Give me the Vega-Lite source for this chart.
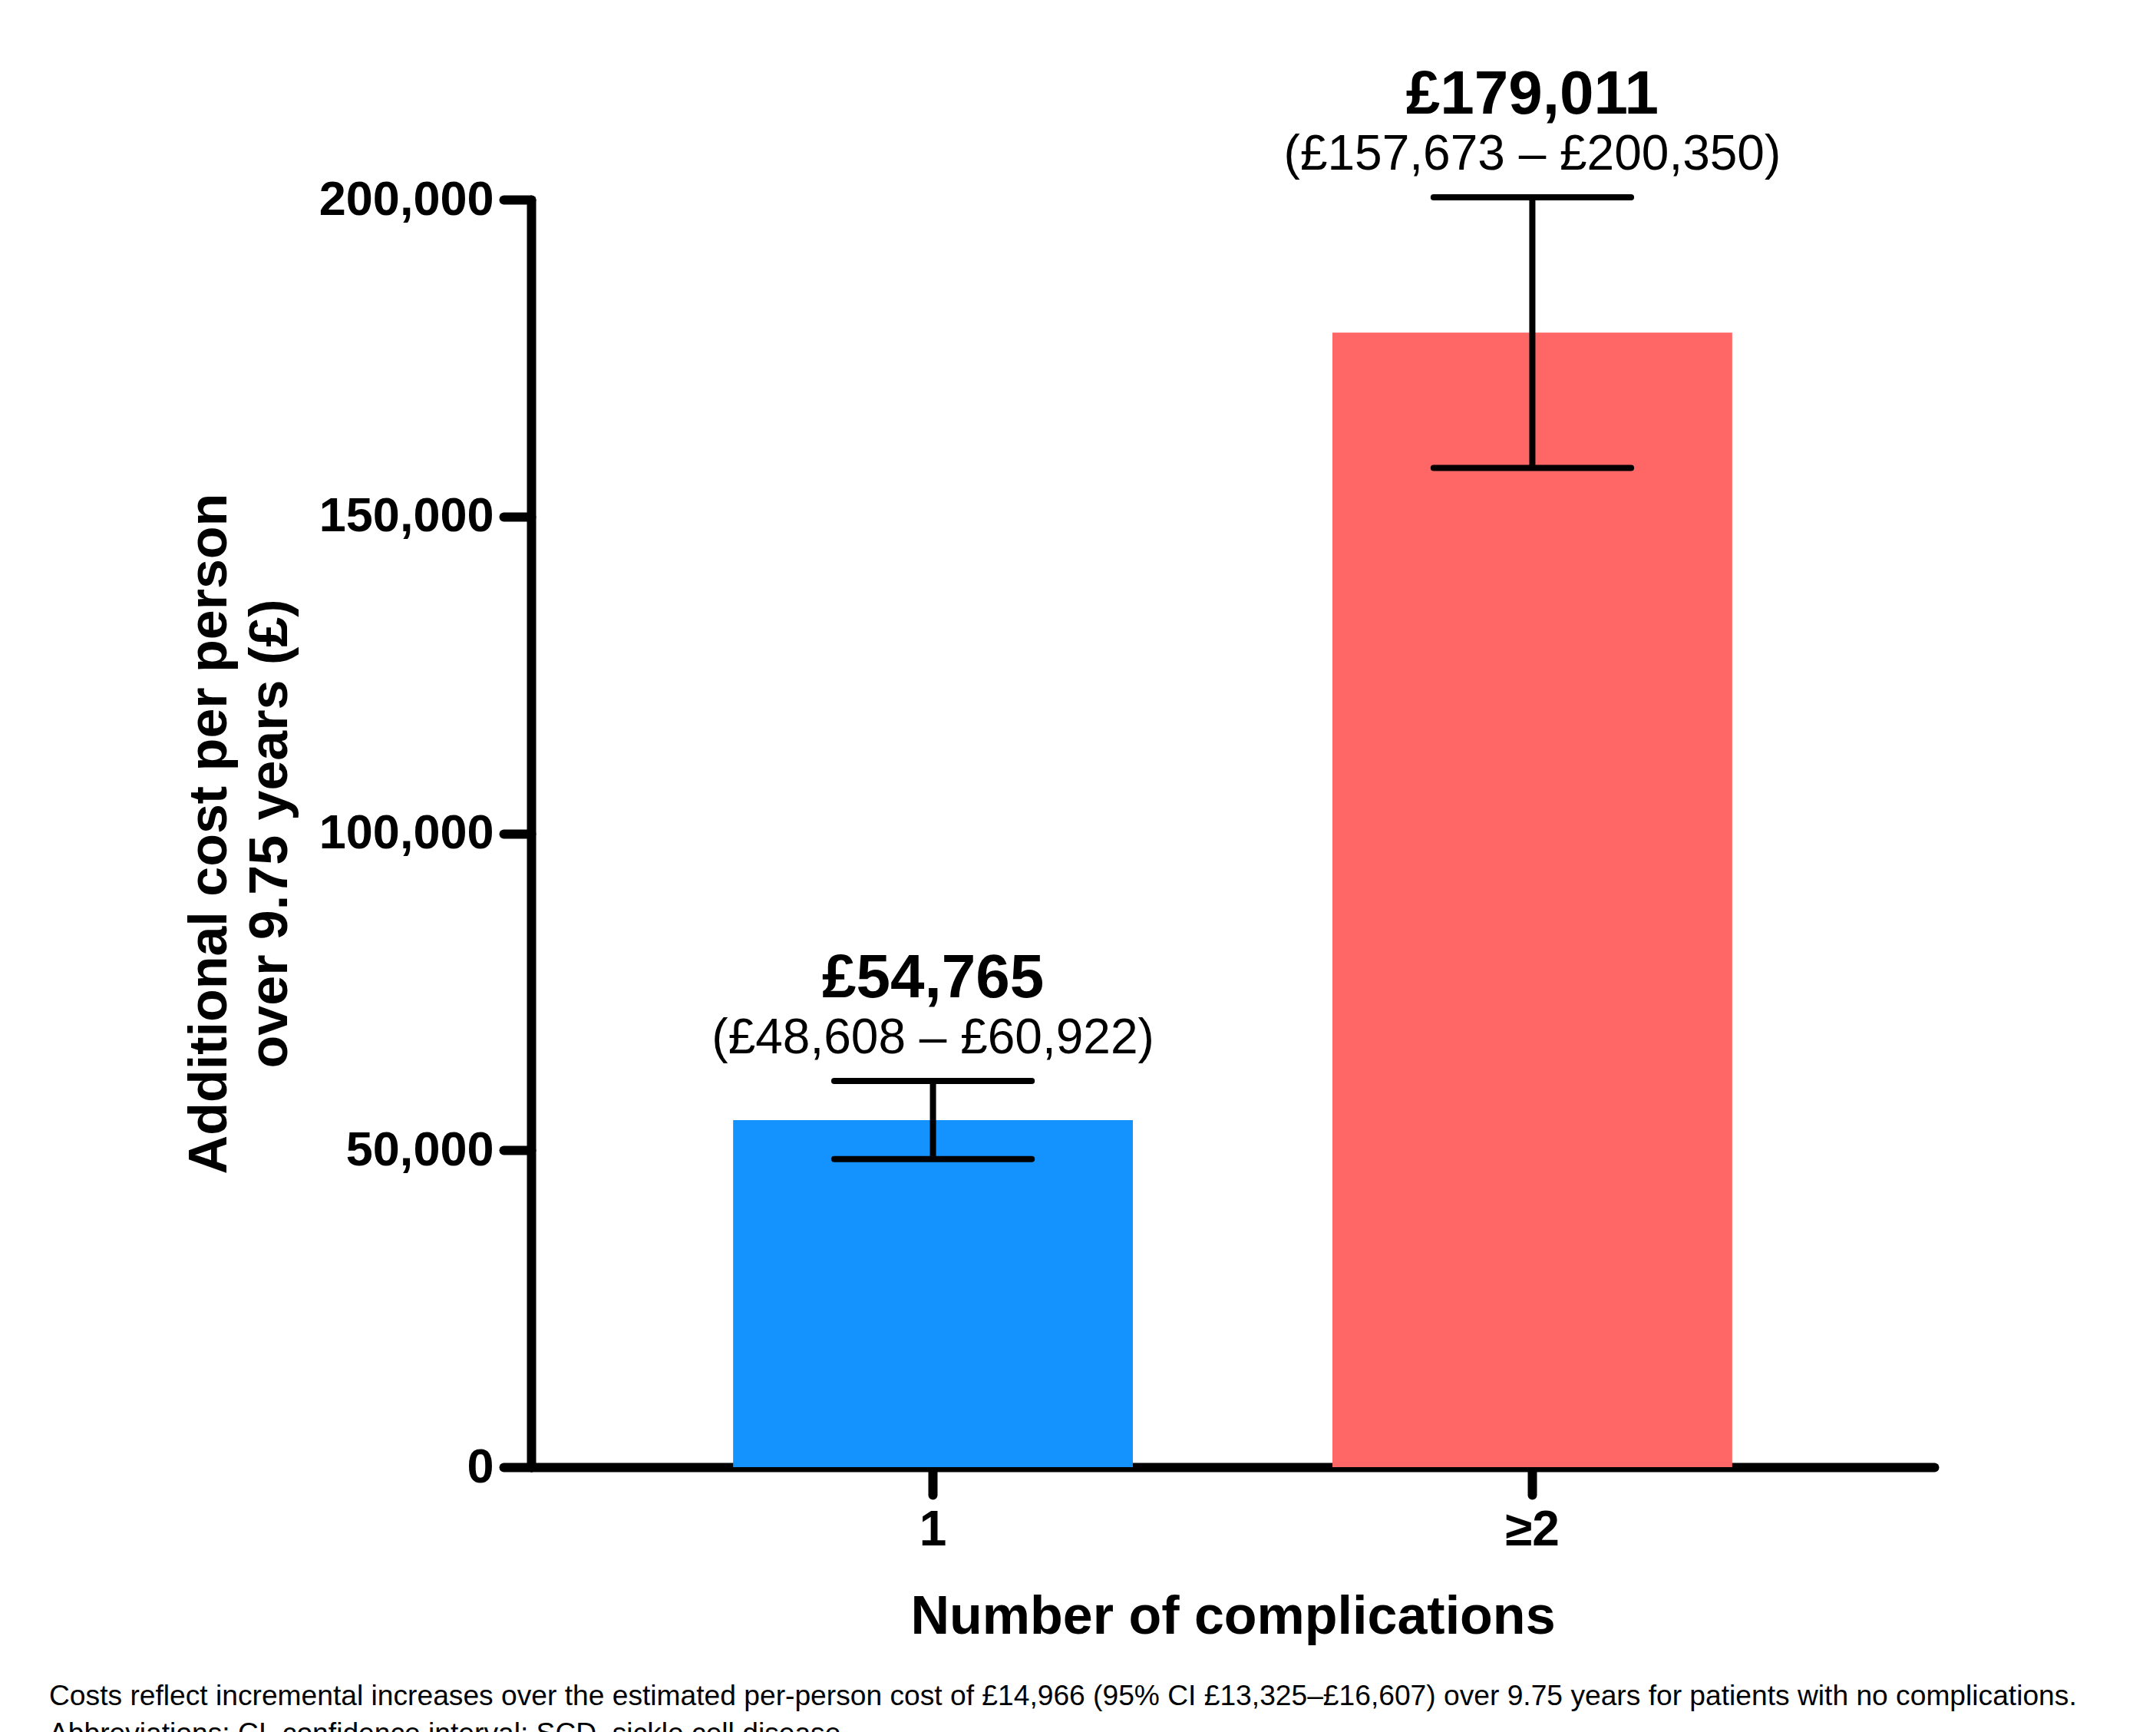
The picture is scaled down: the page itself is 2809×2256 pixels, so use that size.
{
  "$schema": "https://vega.github.io/schema/vega-lite/v6.json",
  "width": 1828,
  "height": 1651,
  "autosize": {"type": "none"},
  "padding": {"left": 692, "top": 260, "right": 289, "bottom": 345},
  "background": "white",
  "config": {
    "view": {"stroke": null},
    "font": "Liberation Sans",
    "axis": {
      "labelColor": "black",
      "titleColor": "black",
      "domainColor": "black",
      "tickColor": "black",
      "domainWidth": 12,
      "tickWidth": 12,
      "domainCap": "round",
      "tickCap": "round",
      "tickSize": 36,
      "labelLimit": 0,
      "titleLimit": 0,
      "labelFont": "Liberation Sans",
      "titleFont": "Liberation Sans",
      "labelFontWeight": "bold",
      "titleFontWeight": "bold",
      "grid": false
    }
  },
  "title": {
    "text": [
      "Costs reflect incremental increases over the estimated per-person cost of £14,966 (95% CI £13,325–£16,607) over 9.75 years for patients with no complications.",
      "Abbreviations: CI, confidence interval; SCD, sickle cell disease."
    ],
    "orient": "bottom",
    "anchor": "start",
    "frame": "group",
    "dx": -628,
    "offset": 51,
    "fontSize": 37.2,
    "fontWeight": "normal",
    "lineHeight": 49,
    "limit": 0,
    "color": "black",
    "font": "Liberation Sans"
  },
  "data": {
    "values": [
      {"complications": "1", "cost": 54765, "lower": 48608, "upper": 60922, "label": "£54,765", "ci": "(£48,608 – £60,922)"},
      {"complications": "≥2", "cost": 179011, "lower": 157673, "upper": 200350, "label": "£179,011", "ci": "(£157,673 – £200,350)"}
    ]
  },
  "encoding": {
    "x": {
      "field": "complications",
      "type": "nominal",
      "sort": null,
      "scale": {"paddingInner": 0.333, "paddingOuter": 0.337},
      "axis": {
        "title": "Number of complications",
        "labelAngle": 0,
        "labelFontSize": 64,
        "labelPadding": 14,
        "titleFontSize": 70,
        "titlePadding": 47
      }
    }
  },
  "layer": [
    {
      "mark": {"type": "bar"},
      "encoding": {
        "y": {
          "field": "cost",
          "type": "quantitative",
          "scale": {"domain": [0, 200000], "nice": false},
          "axis": {
            "title": ["Additional cost per person", "over 9.75 years (£)"],
            "values": [0, 50000, 100000, 150000, 200000],
            "format": ",d",
            "labelFontSize": 63,
            "labelPadding": 13,
            "titleFontSize": 70,
            "titleLineHeight": 79,
            "titlePadding": 104
          }
        },
        "color": {
          "field": "complications",
          "type": "nominal",
          "scale": {"domain": ["1", "≥2"], "range": ["#1493ff", "#ff6666"]},
          "legend": null
        }
      }
    },
    {
      "mark": {"type": "rule", "color": "black", "strokeWidth": 8},
      "encoding": {
        "y": {"field": "lower", "type": "quantitative"},
        "y2": {"field": "upper"}
      }
    },
    {
      "mark": {"type": "rule", "color": "black", "strokeWidth": 8, "strokeCap": "round"},
      "encoding": {
        "x": {"field": "complications", "type": "nominal", "sort": null, "bandPosition": 0.253},
        "x2": {"field": "complications", "bandPosition": 0.747},
        "y": {"field": "lower", "type": "quantitative"}
      }
    },
    {
      "mark": {"type": "rule", "color": "black", "strokeWidth": 8, "strokeCap": "round"},
      "encoding": {
        "x": {"field": "complications", "type": "nominal", "sort": null, "bandPosition": 0.253},
        "x2": {"field": "complications", "bandPosition": 0.747},
        "y": {"field": "upper", "type": "quantitative"}
      }
    },
    {
      "mark": {"type": "text", "fontSize": 64, "dy": -36, "baseline": "alphabetic", "color": "black", "font": "Liberation Sans"},
      "encoding": {
        "y": {"field": "upper", "type": "quantitative"},
        "text": {"field": "ci"}
      }
    },
    {
      "mark": {"type": "text", "fontSize": 80, "fontWeight": "bold", "dy": -109, "baseline": "alphabetic", "color": "black", "font": "Liberation Sans"},
      "encoding": {
        "y": {"field": "upper", "type": "quantitative"},
        "text": {"field": "label"}
      }
    }
  ]
}
